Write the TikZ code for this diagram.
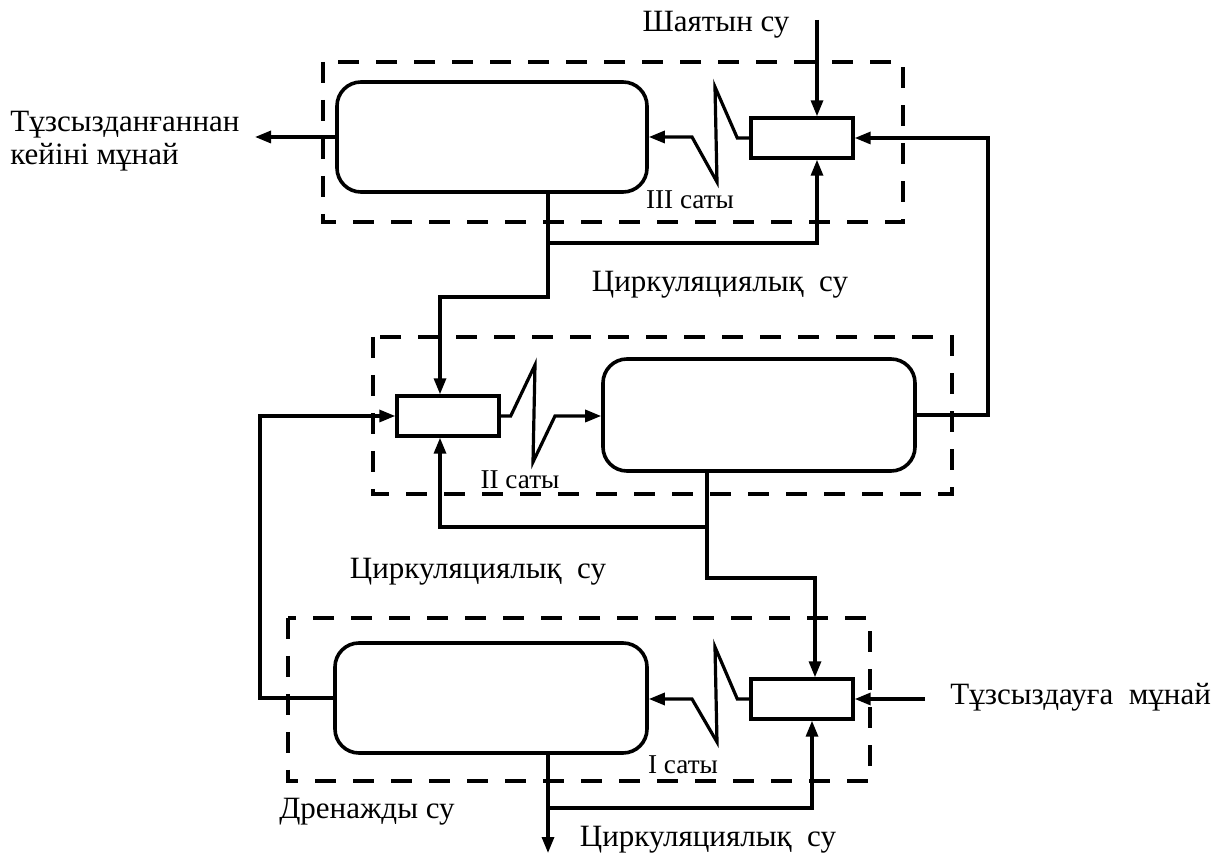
\documentclass[tikz,border=0pt]{standalone}
\usepackage{fontspec}
\setmainfont{Liberation Serif}
\usetikzlibrary{positioning,arrows.meta}
\tikzset{
  vessel/.style={rectangle, rounded corners=12pt, draw, line width=1.8pt,
                 minimum width=155pt, minimum height=55pt, inner sep=0pt},
  mixer/.style={rectangle, draw, line width=1.7pt, minimum width=51pt,
                minimum height=20pt, inner sep=0pt},
  stagebox/.style={draw, line width=2.3pt, dash pattern=on 10.5pt off 8.5pt},
  ar/.style={-{Triangle[length=8pt,width=6pt]}, line width=1.6pt},
  lbl/.style={font=\fontsize{15.5}{16.5}\selectfont, inner sep=0pt},
  stg/.style={font=\fontsize{13.6}{15}\selectfont, inner sep=0pt},
}
\begin{document}
\begin{tikzpicture}[x=0.5pt,y=-0.5pt]
  \useasboundingbox (0,0) rectangle (1217,855);

  % stage boxes
  \draw[stagebox] (323,62) rectangle (903,222);
  \draw[stagebox] (373,337) rectangle (952,494);
  \draw[stagebox] (288,618) rectangle (870,781);

  % vessels and mixers
  \node[vessel] (v3) at (492,137) {};
  \node[mixer] (m3) at (802,138) {};
  \node[vessel, minimum width=156pt, minimum height=56pt] (v2) at (759,415) {};
  \node[mixer] (m2) at (448,416) {};
  \node[vessel, minimum width=156pt] (v1) at (491,698) {};
  \node[mixer] (m1) at (802,699) {};

  % free ends and junctions
  \coordinate (oilout) at (255,137);
  \coordinate (winl) at (817,20);
  \coordinate (rx) at (988,300);
  \coordinate (j3) at (548,243);
  \coordinate (k3) at (548,297);
  \coordinate (c3) at (440,297);
  \coordinate (e3) at (817,243);
  \coordinate (j2) at (707,527);
  \coordinate (k2) at (707,578);
  \coordinate (c2) at (440,527);
  \coordinate (e2) at (815,578);
  \coordinate (lx) at (260,560);
  \coordinate (oin) at (925,699);
  \coordinate (j1) at (548,808);
  \coordinate (e1) at (812,808);
  \coordinate (dout) at (548,853);

  % stage III
  \draw[ar] (v3.west) -- (oilout);
  \draw[ar] (winl) -- (winl |- m3.north);
  \draw[ar] (m3.west) -- ++(-12,0) -- (715,87) -- (717,182) -- (692,137) -- (v3.east);
  \draw[ar] (v2.east) -- (v2.east -| rx) -- (rx |- m3.east) -- (m3.east);
  \draw[ar] (v3.south -| k3) -- (k3) -- (c3) -- (c3 |- m2.north);
  \draw[ar] (j3) -- (e3) -- (e3 |- m3.south);

  % stage II
  \draw[ar] (m2.east) -- ++(10,0) -- (535,365) -- (533,462) -- (555,416) -- (v2.west |- m2.east);
  \draw[ar] (v2.south -| k2) -- (k2) -- (e2) -- (e2 |- m1.north);
  \draw[ar] (j2) -- (c2) -- (c2 |- m2.south);
  \draw[ar] (v1.west) -- (v1.west -| lx) -- (lx |- m2.west) -- (m2.west);

  % stage I
  \draw[ar] (m1.west) -- ++(-12,0) -- (715,647) -- (717,742) -- (692,699) -- (v1.east |- m1.west);
  \draw[ar] (oin) -- (m1.east);
  \draw[ar] (v1.south -| j1) -- (dout);
  \draw[ar] (j1) -- (e1) -- (e1 |- m1.south);

  % labels
  \node[lbl, anchor=west, align=left] (tout) at (10,141) {Тұзсызданғаннан\\кейіні мұнай};
  \node[lbl] (twater) at (716,25) {Шаятын су};
  \node[stg] (s3) at (690,200) {III саты};
  \node[lbl] (r3) at (720,285) {Циркуляциялық\ \ су};
  \node[stg] (s2) at (520,480) {II саты};
  \node[lbl] (r2) at (478,572) {Циркуляциялық\ \ су};
  \node[stg] (s1) at (683,765) {I саты};
  \node[lbl, anchor=west] (tin) at (950,697) {Тұзсыздауға\ \ мұнай};
  \node[lbl] (tdrain) at (367,812) {Дренажды су};
  \node[lbl] (r1) at (708,840) {Циркуляциялық\ \ су};
\end{tikzpicture}
\end{document}
